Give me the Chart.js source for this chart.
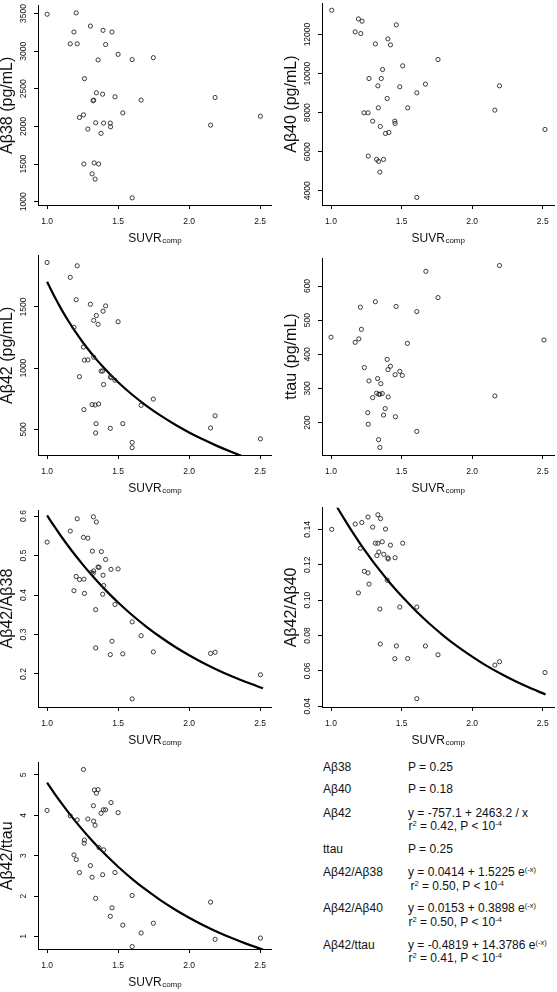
<!DOCTYPE html>
<html><head><meta charset="utf-8">
<script src="https://cdn.jsdelivr.net/npm/chart.js@4.4.0/dist/chart.umd.min.js"></script>
<style>
html,body{margin:0;padding:0;background:#fff;}
body{width:557px;height:992px;position:relative;overflow:hidden;font-family:"Liberation Sans",Arial,Helvetica,sans-serif;color:#111;}
.st{position:absolute;font-size:12px;line-height:14px;white-space:nowrap;}
.sp{font-size:7.5px;position:relative;top:-4px;}
</style></head><body>
<div class="st" style="left:323px;top:759.7px">Aβ38</div><div class="st" style="left:408px;top:759.7px">P = 0.25</div>
<div class="st" style="left:323px;top:782.3px">Aβ40</div><div class="st" style="left:408px;top:782.3px">P = 0.18</div>
<div class="st" style="left:323px;top:805.7px">Aβ42</div><div class="st" style="left:408px;top:805.7px">y = -757.1 + 2463.2 / x</div>
<div class="st" style="left:408.5px;top:819px">r<span class="sp">2</span> = 0.42, P &lt; 10<span class="sp">-4</span></div>
<div class="st" style="left:323px;top:842px">ttau</div><div class="st" style="left:408px;top:842px">P = 0.25</div>
<div class="st" style="left:323px;top:864.7px">Aβ42/Aβ38</div><div class="st" style="left:408px;top:864.7px">y = 0.0414 + 1.5225 e<span class="sp">(-x)</span></div>
<div class="st" style="left:410.5px;top:878.7px">r<span class="sp">2</span> = 0.50, P &lt; 10<span class="sp">-4</span></div>
<div class="st" style="left:323px;top:901.3px">Aβ42/Aβ40</div><div class="st" style="left:408px;top:901.3px">y = 0.0153 + 0.3898 e<span class="sp">(-x)</span></div>
<div class="st" style="left:408.5px;top:915.3px">r<span class="sp">2</span> = 0.50, P &lt; 10<span class="sp">-4</span></div>
<div class="st" style="left:323px;top:938px">Aβ42/ttau</div><div class="st" style="left:408px;top:938px">y = -0.4819 + 14.3786 e<span class="sp">(-x)</span></div>
<div class="st" style="left:408.5px;top:951.3px">r<span class="sp">2</span> = 0.41, P &lt; 10<span class="sp">-4</span></div>
<script>
// ---------- data ----------
const xTicks = [1.0, 1.5, 2.0, 2.5];
const xTickLabels = ["1.0", "1.5", "2.0", "2.5"];

const ab38Suvr = [1.000,1.205,1.189,1.305,1.394,1.457,1.163,1.212,1.412,1.500,1.359,1.599,1.748,1.263,1.347,1.391,1.478,1.328,1.324,2.183,1.662,1.533,1.256,1.228,1.342,1.398,1.445,1.447,1.287,1.380,2.151,2.502,1.259,1.331,1.363,1.317,1.338,1.599];
const ab38Val = [3491,3509,3255,3334,3277,3255,3098,3098,3089,2958,2884,2888,2914,2635,2447,2429,2394,2350,2342,2385,2350,2180,2154,2119,2049,2045,2045,1996,1966,1909,2018,2136,1502,1516,1502,1371,1301,1052];
const ab38Ticks = [1000,1500,2000,2500,3000,3500];
const ab38TickLabels = ["1000","1500","2000","2500","3000","3500"];

const ab40Suvr = [1.005,1.194,1.220,1.463,1.171,1.211,1.403,1.314,1.421,1.758,1.508,1.365,1.269,1.356,1.669,2.194,1.332,1.487,1.608,1.398,1.335,1.543,2.161,1.234,1.262,1.295,1.452,1.454,1.349,2.516,1.410,1.386,1.264,1.323,1.372,1.337,1.346,1.608];
const ab40Val = [13245,12802,12682,12495,12136,12051,11778,11522,11471,10720,10396,10209,9748,9748,9458,9373,9373,9322,9015,8725,8247,8247,8127,7991,7991,7564,7564,7445,7291,7138,6984,6933,5773,5603,5603,5500,4954,3658];
const ab40Ticks = [4000,6000,8000,10000,12000];
const ab40TickLabels = ["4000","6000","8000","10000","12000"];

const ab42Suvr = [1.000,1.212,1.163,1.205,1.305,1.412,1.394,1.347,1.328,1.359,1.500,1.189,1.256,1.328,1.263,1.287,1.380,1.391,1.228,1.445,1.454,1.478,1.398,1.748,1.662,1.317,1.338,1.363,1.259,2.183,1.345,1.533,2.151,1.445,1.342,2.502,1.599,1.599];
const ab42Val = [1863,1836,1742,1559,1522,1508,1465,1430,1390,1358,1379,1333,1172,1089,1065,1067,976,976,930,927,922,901,866,747,696,702,699,707,661,610,546,546,511,508,470,422,393,350];
const ab42Ticks = [500,1000,1500];
const ab42TickLabels = ["500","1000","1500"];

const ttauSuvr = [1.000,1.672,2.194,1.314,1.461,1.208,1.608,1.758,1.215,1.197,1.171,1.541,2.509,1.398,1.421,1.403,1.236,1.487,1.505,1.454,1.269,1.330,1.353,1.323,1.339,1.346,1.363,1.295,1.405,2.161,1.384,1.372,1.260,1.456,1.264,1.608,1.337,1.346];
const ttauVal = [450,643,660,554,540,538,525,566,473,445,435,432,442,385,365,355,361,350,338,340,322,329,314,286,283,283,285,273,275,278,241,222,229,217,195,174,150,127];
const ttauTicks = [200,300,400,500,600];
const ttauTickLabels = ["200","300","400","500","600"];

const r4238Suvr = [1.000,1.326,1.212,1.347,1.163,1.256,1.287,1.319,1.382,1.412,1.359,1.366,1.450,1.500,1.328,1.312,1.324,1.394,1.205,1.228,1.259,1.398,1.189,1.263,1.391,1.478,1.342,1.599,1.662,1.457,1.748,2.183,2.151,1.533,1.445,1.342,2.502,1.599];
const r4238Val = [0.534,0.598,0.593,0.585,0.562,0.546,0.544,0.511,0.510,0.490,0.471,0.470,0.465,0.466,0.461,0.457,0.455,0.450,0.447,0.439,0.440,0.424,0.411,0.404,0.402,0.376,0.363,0.332,0.297,0.283,0.256,0.255,0.252,0.251,0.249,0.266,0.198,0.137];
const r4238Ticks = [0.2,0.3,0.4,0.5,0.6];
const r4238TickLabels = ["0.2","0.3","0.4","0.5","0.6"];

const r4240Suvr = [1.005,1.332,1.262,1.351,1.171,1.218,1.295,1.386,1.363,1.314,1.332,1.508,1.421,1.208,1.339,1.374,1.325,1.403,1.405,1.454,1.236,1.262,1.269,1.398,1.194,1.346,1.487,1.608,1.349,1.463,1.669,1.758,1.452,1.543,2.194,2.161,2.516,1.608];
const r4240Val = [0.1400,0.1483,0.1470,0.1461,0.1430,0.1439,0.1413,0.1402,0.1330,0.1322,0.1322,0.1322,0.1311,0.1293,0.1272,0.1259,0.1252,0.1239,0.1233,0.1240,0.1163,0.1154,0.1091,0.1113,0.1041,0.0950,0.0961,0.0961,0.0752,0.0741,0.0741,0.0691,0.0669,0.0670,0.0652,0.0633,0.0591,0.0443];
const r4240Ticks = [0.04,0.06,0.08,0.10,0.12,0.14];
const r4240TickLabels = ["0.04","0.06","0.08","0.10","0.12","0.14"];

const r42tauSuvr = [1.000,1.256,1.359,1.333,1.347,1.326,1.450,1.396,1.412,1.380,1.500,1.163,1.212,1.287,1.328,1.338,1.263,1.261,1.366,1.398,1.189,1.205,1.305,1.228,1.478,1.317,1.391,1.342,1.599,2.151,1.457,1.445,1.533,1.748,1.662,2.183,2.502,1.599];
const r42tauVal = [4.119,5.133,4.634,4.626,4.548,4.236,4.314,4.134,4.134,4.049,4.064,3.986,3.885,3.908,3.854,3.752,3.386,3.308,3.199,3.144,3.019,2.903,2.754,2.583,2.583,2.466,2.528,1.943,2.014,1.850,1.710,1.499,1.281,1.327,1.086,0.930,0.961,0.750];
const r42tauTicks = [1,2,3,4,5];
const r42tauTickLabels = ["1","2","3","4","5"];

// fitted curves
const fitSuvr = [1.00,1.05,1.10,1.15,1.20,1.25,1.30,1.35,1.40,1.45,1.50,1.60,1.70,1.80,1.90,2.00,2.10,2.20,2.30,2.40,2.52];
const fitAb42 = [1706.1,1588.8,1482.2,1384.8,1295.6,1213.5,1137.7,1067.5,1002.3,941.7,885.0,782.4,691.8,611.3,539.3,474.5,415.9,362.5,313.9,269.2,220.4];
const fitR4238 = [0.6015,0.5742,0.5482,0.5235,0.5000,0.4776,0.4563,0.4361,0.4168,0.3985,0.3811,0.3488,0.3195,0.2931,0.2691,0.2475,0.2278,0.2101,0.1940,0.1795,0.1639];
const fitR4240 = [0.1587,0.1517,0.1451,0.1387,0.1327,0.1270,0.1215,0.1164,0.1114,0.1067,0.1023,0.0940,0.0865,0.0797,0.0736,0.0681,0.0630,0.0585,0.0544,0.0507,0.0467];
const fitR42tau = [4.8077,4.5497,4.3043,4.0709,3.8489,3.6377,3.4368,3.2456,3.0638,2.8909,2.7264,2.4211,2.1449,1.8949,1.6687,1.4641,1.2789,1.1113,0.9597,0.8225,0.6750];

// ---------- layout / style ----------
const FONT = "'Liberation Sans', Arial, Helvetica, sans-serif";
const TICK = 8.5, AXW = 38, XAH = 45, PT = 3, TL = 4, YLAB_OFF = 14;
const X_MIN = 0.936, X_MAX = 2.58;

function widestLabel(labels){
  const c = document.createElement('canvas').getContext('2d');
  c.font = TICK + 'px ' + FONT;
  return Math.max(...labels.map(l => c.measureText(l).width));
}

const xTitlePlugin = {
  id: 'xtitle',
  afterDraw(chart){
    const ctx = chart.ctx, a = chart.chartArea;
    ctx.save();
    ctx.fillStyle = '#111';
    const f1 = '12px ' + FONT, f2 = '8px ' + FONT;
    ctx.font = f1; const w1 = ctx.measureText('SUVR').width;
    ctx.font = f2; const w2 = ctx.measureText('comp').width;
    const x0 = (a.left + a.right) / 2 - (w1 + w2) / 2;
    const yb = a.bottom + 36.5;
    ctx.textAlign = 'left'; ctx.textBaseline = 'alphabetic';
    ctx.font = f1; ctx.fillText('SUVR', x0, yb);
    ctx.font = f2; ctx.fillText('comp', x0 + w1 + 0.5, yb + 1.5);
    ctx.restore();
  }
};

function panel(p){
  const cv = document.createElement('canvas');
  const W = p.cw, H = PT + p.ph + XAH;
  cv.width = W; cv.height = H;
  cv.style.cssText = 'position:absolute;left:' + p.cl + 'px;top:' + (p.pt - PT) + 'px;width:' + W + 'px;height:' + H + 'px;';
  document.body.appendChild(cv);
  const widest = widestLabel(p.yLabels);
  const datasets = [{
    type: 'scatter',
    data: p.xs.map((x, i) => ({x: x, y: p.ys[i]})),
    pointStyle: 'circle', pointRadius: 2.1, pointHoverRadius: 2.1,
    borderWidth: 0.9, borderColor: '#262626', backgroundColor: 'rgba(0,0,0,0)'
  }];
  if (p.fit) datasets.push({
    type: 'line',
    data: fitSuvr.map((x, i) => ({x: x, y: p.fit[i]})),
    borderColor: '#000', borderWidth: 2.2, pointRadius: 0, fill: false,
    cubicInterpolationMode: 'monotone', clip: 0
  });
  const grid = {drawOnChartArea: false, drawTicks: true, tickLength: TL, color: '#000', lineWidth: 1};
  const border = {display: true, color: '#000', width: 1};
  new Chart(cv, {
    type: 'scatter',
    data: {datasets: datasets},
    options: {
      responsive: false, animation: false, devicePixelRatio: 1, events: [],
      layout: {padding: {left: 0, top: PT, right: W - AXW - p.pw, bottom: 0}},
      plugins: {legend: {display: false}, tooltip: {enabled: false}},
      scales: {
        x: {
          type: 'linear', min: X_MIN, max: X_MAX,
          afterBuildTicks: s => { s.ticks = xTicks.map(v => ({value: v})); },
          afterFit: s => { s.height = XAH; },
          ticks: {callback: (v, i) => xTickLabels[i], font: {size: TICK, family: FONT}, color: '#111',
                  padding: 7.5, minRotation: 0, maxRotation: 0, autoSkip: false},
          grid: grid, border: border
        },
        y: {
          type: 'linear', min: p.yMin, max: p.yMax,
          afterBuildTicks: s => { s.ticks = p.yTicks.map(v => ({value: v})); },
          afterFit: s => { s.width = AXW; },
          ticks: {callback: (v, i) => p.yLabels[i], font: {size: TICK, family: FONT}, color: '#111',
                  minRotation: 90, maxRotation: 90, crossAlign: 'center',
                  padding: YLAB_OFF - TL - widest / 2, autoSkip: false},
          grid: grid, border: border,
          title: {display: true, text: p.title, color: '#111',
                  font: {size: 16, family: FONT, lineHeight: 1}, padding: {top: 0, bottom: 0}}
        }
      }
    },
    plugins: [xTitlePlugin]
  });
}

const L = {cl: 0, cw: 278, pw: 233.5};
const R = {cl: 284, cw: 273, pw: 233.5};

panel(Object.assign({}, L, {pt: 3, ph: 202, xs: ab38Suvr, ys: ab38Val, yMin: 957, yMax: 3605,
  yTicks: ab38Ticks, yLabels: ab38TickLabels, title: 'Aβ38 (pg/mL)'}));
panel(Object.assign({}, R, {pt: 3, ph: 202, xs: ab40Suvr, ys: ab40Val, yMin: 3269, yMax: 13601,
  yTicks: ab40Ticks, yLabels: ab40TickLabels, title: 'Aβ40 (pg/mL)'}));
panel(Object.assign({}, L, {pt: 253, ph: 202, xs: ab42Suvr, ys: ab42Val, yMin: 290, yMax: 1919,
  yTicks: ab42Ticks, yLabels: ab42TickLabels, title: 'Aβ42 (pg/mL)', fit: fitAb42}));
panel(Object.assign({}, R, {pt: 253, ph: 202, xs: ttauSuvr, ys: ttauVal, yMin: 105, yMax: 682,
  yTicks: ttauTicks, yLabels: ttauTickLabels, title: 'ttau (pg/mL)'}));
panel(Object.assign({}, L, {pt: 504, ph: 203, xs: r4238Suvr, ys: r4238Val, yMin: 0.1164, yMax: 0.6148,
  yTicks: r4238Ticks, yLabels: r4238TickLabels, title: 'Aβ42/Aβ38', fit: fitR4238}));
panel(Object.assign({}, R, {pt: 504, ph: 203, xs: r4240Suvr, ys: r4240Val, yMin: 0.0396, yMax: 0.1522,
  yTicks: r4240Ticks, yLabels: r4240TickLabels, title: 'Aβ42/Aβ40', fit: fitR4240}));
panel(Object.assign({}, L, {pt: 753, ph: 196, xs: r42tauSuvr, ys: r42tauVal, yMin: 0.69, yMax: 5.30,
  yTicks: r42tauTicks, yLabels: r42tauTickLabels, title: 'Aβ42/ttau', fit: fitR42tau}));
</script>
</body></html>
